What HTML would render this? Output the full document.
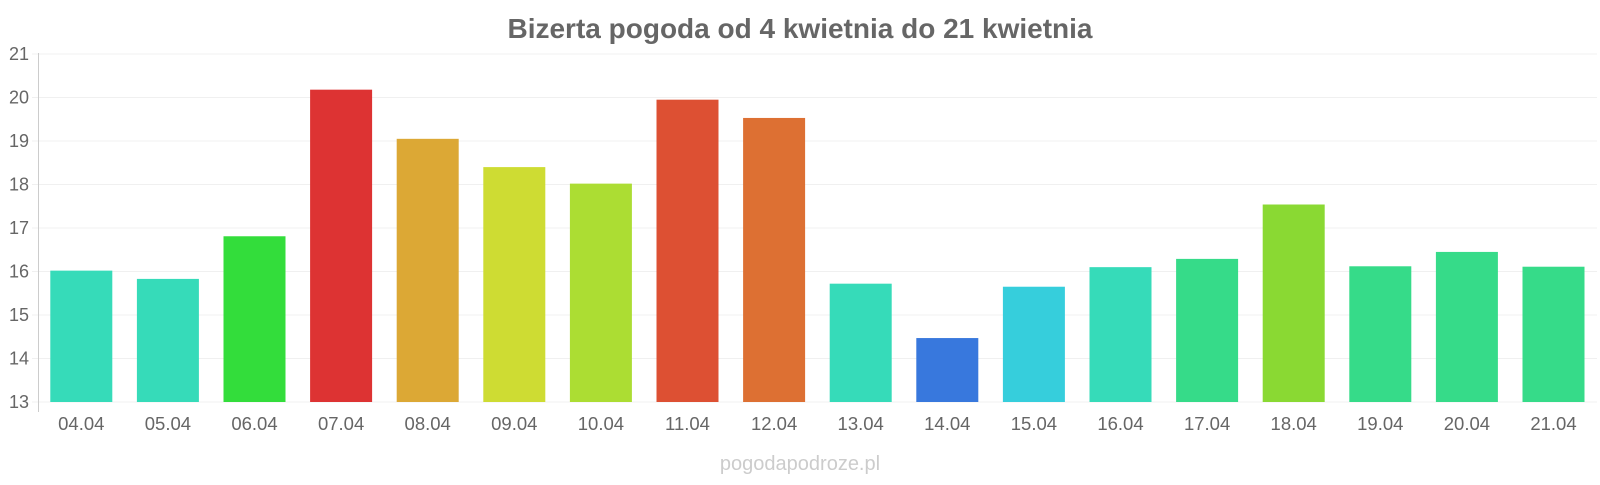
<!DOCTYPE html>
<html><head><meta charset="utf-8"><style>
body{margin:0;background:#fff;}
svg text{font-family:"Liberation Sans",Arial,sans-serif;}
</style></head><body>
<svg width="1600" height="480" xmlns="http://www.w3.org/2000/svg">
<text x="800" y="38" text-anchor="middle" font-size="28" font-weight="bold" fill="#666">Bizerta pogoda od 4 kwietnia do 21 kwietnia</text>
<g id="grid" stroke="#f0f0f0" stroke-width="1"></g>
<g id="bars"></g>
<line x1="38.5" y1="53" x2="38.5" y2="412" stroke="#ccc" stroke-width="1"/>
<g id="ylab" font-size="18" fill="#666" text-anchor="end"></g>
<g id="xlab" font-size="18.5" fill="#666" text-anchor="middle"></g>
<text x="800" y="470" text-anchor="middle" font-size="20" fill="#ccc">pogodapodroze.pl</text>
<script>
var ns="http://www.w3.org/2000/svg";
function el(n,a,p,t){var e=document.createElementNS(ns,n);for(var k in a)e.setAttribute(k,a[k]);if(t)e.textContent=t;document.getElementById(p).appendChild(e);}
var y0=402,u=43.5;
for(var v=13;v<=21;v++){var y=y0-(v-13)*u;el('line',{x1:32,x2:1597,y1:y,y2:y},'grid');el('text',{x:29,y:y+6},'ylab',''+v);}
var vals=[16.02,15.83,16.81,20.18,19.05,18.4,18.02,19.95,19.53,15.72,14.47,15.65,16.1,16.29,17.54,16.12,16.45,16.11];
var cols=['#36dbb9','#36dbb9','#33dd3b','#dd3333','#dca835','#cedc33','#acdd33','#dd5033','#dd7033','#36dbb9','#3878dd','#36cedc','#36dbb9','#36db89','#8ad933','#36db89','#36db89','#36db89'];
var labs=['04.04','05.04','06.04','07.04','08.04','09.04','10.04','11.04','12.04','13.04','14.04','15.04','16.04','17.04','18.04','19.04','20.04','21.04'];
for(var i=0;i<18;i++){var c=38+86.6*(i+0.5);var t=y0-(vals[i]-13)*u;
el('rect',{x:c-31,y:t,width:62,height:y0-t,fill:cols[i]},'bars');
el('text',{x:c,y:430},'xlab',labs[i]);}
</script>
</svg>
</body></html>
